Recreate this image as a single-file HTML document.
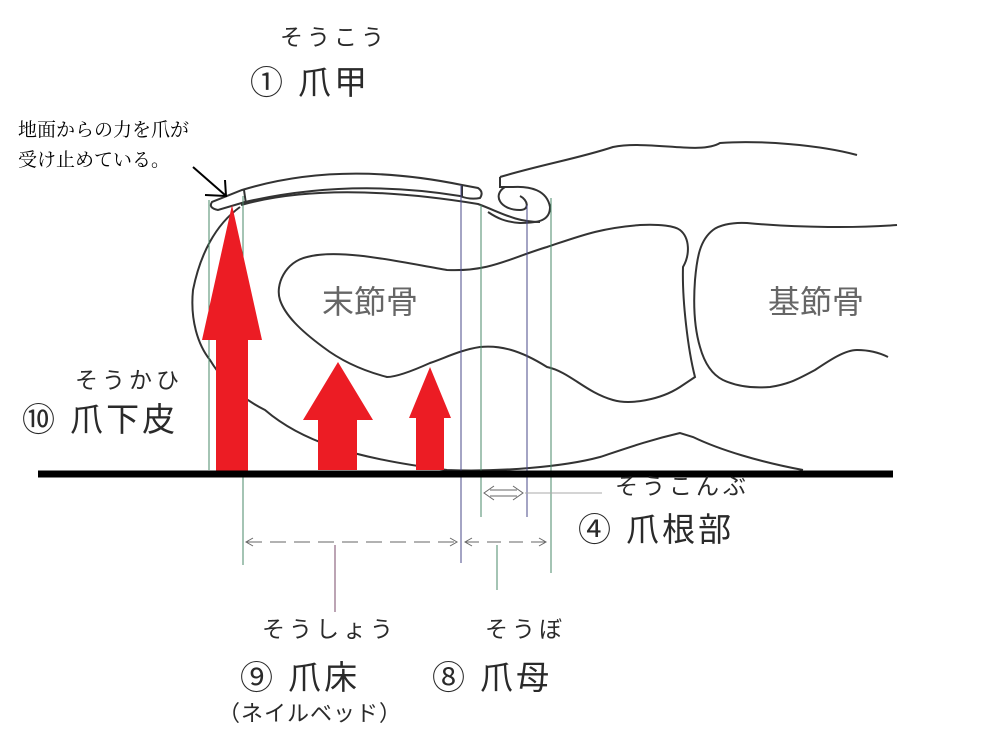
<!DOCTYPE html>
<html><head><meta charset="utf-8"><style>
html,body{margin:0;padding:0;background:#fff;}
svg{display:block;}
.t{font-family:"Liberation Sans","Noto Sans CJK JP",sans-serif;fill:#2a2a2a;}
.k{letter-spacing:4px;}
.b{letter-spacing:3px;}
.s{font-family:"Liberation Serif","Noto Serif CJK SC",serif;fill:#000;}
</style></head><body>
<svg width="996" height="738" viewBox="0 0 996 738" xmlns="http://www.w3.org/2000/svg">
<rect width="996" height="738" fill="#fff"/>
<g fill="none" stroke="#333" stroke-width="2">
<path d="M242,190 Q340,160 462,185 L478,188 Q484,192 480,198 Q470,200 460,196 Q350,178 245,202 L218,210 Q208,208 212,202 Z"/>
<path d="M241,205 Q330,180 478,204 C500,212 515,222 540,222"/>
<line x1="244" y1="190" x2="246" y2="204"/>
<line x1="462" y1="186" x2="462" y2="197"/>
<path d="M500,177 C540,165 580,158 613,147 C650,140 700,155 720,143 C760,140 820,145 857,155"/>
<path d="M500,177 L500,187 L513,187 C530,186 547,190 550,207 C550,220 540,223 520,223 C505,222 497,218 488,212"/>
<path d="M505,187 C492,195 500,210 520,210 C530,210 528,200 520,196"/>
<path d="M240,207 C215,225 200,255 193,290 C190,320 198,345 210,360 C225,385 245,400 265,410 C300,440 350,458 447,470 C500,472 563,467 600,457 C630,447 650,440 680,433 L693,437 C720,450 760,462 803,470"/>
<path d="M307,257 C340,248 400,262 447,270 C490,272 510,258 547,247 C580,236 600,228 640,225 C660,224 675,226 680,230 C690,238 690,255 683,267 C682,300 688,350 695,377 L680,387 C660,400 630,405 613,400 C585,392 570,372 547,367 C520,350 500,345 480,347 C460,350 445,358 430,363 C410,372 395,377 387,377 C360,370 340,360 323,347 C300,330 285,315 280,300 C275,285 285,262 307,257 Z"/>
<path d="M897,225 C860,228 800,228 747,223 C730,222 718,226 713,230 C700,240 697,257 695,280 C693,307 695,330 700,347 C705,365 713,375 723,380 C740,388 757,388 770,387 C790,384 800,378 815,370 C830,360 845,350 857,350 C872,350 882,354 888,357"/>
</g>
<g stroke-width="1">
<line x1="209" y1="200" x2="209" y2="470" stroke="#4a8a6a"/>
<line x1="243" y1="196" x2="243" y2="565" stroke="#4a8a6a"/>
<line x1="461" y1="185" x2="461" y2="563" stroke="#4a4a8a"/>
<line x1="481" y1="205" x2="481" y2="517" stroke="#4a8a6a"/>
<line x1="527" y1="205" x2="527" y2="517" stroke="#4a4a8a"/>
<line x1="551" y1="198" x2="551" y2="573" stroke="#4a8a6a"/>
<line x1="497" y1="545" x2="497" y2="590" stroke="#4a8a6a"/>
<line x1="335" y1="545" x2="335" y2="612" stroke="#7a4a6a"/>
</g>
<g fill="#ec1c24">
<polygon points="232,205 262,340 248,340 248,472 216,472 216,340 202,340"/>
<polygon points="338,362 373,420 357,420 357,470 318,470 318,420 303,420"/>
<polygon points="430,367 451,418 444,418 444,470 416,470 416,418 409,418"/>
</g>
<line x1="38" y1="474" x2="893" y2="474" stroke="#000" stroke-width="7"/>
<g stroke="#000" stroke-width="2" fill="none">
<line x1="193" y1="167" x2="225" y2="195"/>
<polyline points="225,180 226,196 205,195"/>
</g>
<g stroke="#666" stroke-width="1" fill="none">
<line x1="246" y1="542" x2="457" y2="542" stroke-dasharray="16,8"/>
<polyline points="253,538 246,542 253,546"/>
<polyline points="450,538 457,542 450,546"/>
<line x1="465" y1="542" x2="546" y2="542" stroke-dasharray="14,8"/>
<polyline points="472,538 465,542 472,546"/>
<polyline points="539,538 546,542 539,546"/>
<line x1="490" y1="490" x2="517" y2="490"/>
<line x1="490" y1="496" x2="517" y2="496"/>
<polyline points="494,486 484,493 494,500"/>
<polyline points="513,486 523,493 513,500"/>
<line x1="525" y1="493" x2="602" y2="493" stroke="#aaa"/>
</g>
<text class="s" x="18" y="136" font-size="19">地面からの力を爪が</text>
<text class="s" x="18" y="166" font-size="19">受け止めている。</text>
<text class="t k" x="280" y="45" font-size="23">そうこう</text>
<text class="t b" x="250" y="94" font-size="33">① 爪甲</text>
<text class="t" x="322" y="313" font-size="32" style="fill:#666">末節骨</text>
<text class="t" x="768" y="313" font-size="32" style="fill:#666">基節骨</text>
<text class="t k" x="75" y="388" font-size="23">そうかひ</text>
<text class="t b" x="22" y="431" font-size="33">⑩ 爪下皮</text>
<text class="t k" x="615" y="494" font-size="23">そうこんぶ</text>
<text class="t b" x="578" y="541" font-size="33">④ 爪根部</text>
<text class="t k" x="262" y="637" font-size="23">そうしょう</text>
<text class="t k" x="485" y="637" font-size="23">そうぼ</text>
<text class="t b" x="240" y="689" font-size="33">⑨ 爪床</text>
<text class="t b" x="432" y="689" font-size="33">⑧ 爪母</text>
<text class="t" x="218" y="721" font-size="22" style="letter-spacing:1px">（ネイルベッド）</text>
</svg>
</body></html>
